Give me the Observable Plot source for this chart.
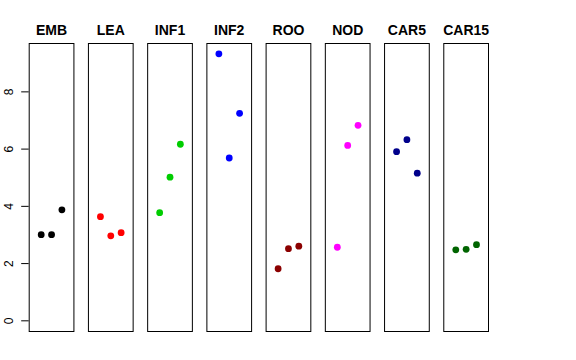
<!DOCTYPE html>
<html>
<head>
<meta charset="utf-8">
<script src="https://cdn.jsdelivr.net/npm/d3@7"></script>
<script src="https://cdn.jsdelivr.net/npm/@observablehq/plot@0.6"></script>
<style>
  html, body { margin: 0; padding: 0; background: #fff; }
  #chart svg { display: block; font-family: "Liberation Sans", Arial, Helvetica, sans-serif; }
</style>
</head>
<body>
<div id="chart"></div>
<script>
const categories = ["EMB", "LEA", "INF1", "INF2", "ROO", "NOD", "CAR5", "CAR15"];
const colors = ["#000000", "#FF0000", "#00CD00", "#0000FF", "#8B0000", "#FF00FF", "#00008B", "#006400"];
const replicates = [1, 2, 3];
const rep1 = [3.01, 3.64, 3.78, 9.33, 1.82, 2.57, 5.91, 2.48];
const rep2 = [3.01, 2.97, 5.02, 5.69, 2.52, 6.13, 6.33, 2.50];
const rep3 = [3.88, 3.08, 6.17, 7.25, 2.61, 6.83, 5.16, 2.66];
const yTicks = [0, 2, 4, 6, 8];

const reps = [rep1, rep2, rep3];
const data = [];
categories.forEach((c, i) => {
  replicates.forEach((r, j) => data.push({cat: c, rep: r, value: reps[j][i]}));
});

const chart = Plot.plot({
  width: 576,
  height: 360,
  marginLeft: 28.7,
  marginRight: 88,
  marginTop: 43,
  marginBottom: 29,
  style: {fontFamily: "Liberation Sans, Arial, Helvetica, sans-serif", background: "#fff"},
  fx: {domain: categories, paddingInner: 0.245, paddingOuter: 0, round: false, label: null},
  x: {domain: [-0.16, 4.16], axis: null},
  y: {domain: [-0.373, 9.69]},
  color: {domain: categories, range: colors},
  marks: [
    Plot.frame({stroke: "#000", strokeWidth: 1}),
    Plot.axisFx({anchor: "top", tickSize: 0, tickPadding: 9, fontSize: 14, fontWeight: "bold", label: null, fill: "#000"}),
    Plot.axisY({ticks: yTicks, tickSize: 7.5, tickPadding: 9, tickRotate: -90, fontSize: 12, label: null, stroke: "#000", color: "#000"}),
    Plot.dot(data, {fx: "cat", x: "rep", y: "value", fill: "cat", r: 3.4, stroke: null})
  ]
});
document.getElementById("chart").appendChild(chart);
</script>
</body>
</html>
